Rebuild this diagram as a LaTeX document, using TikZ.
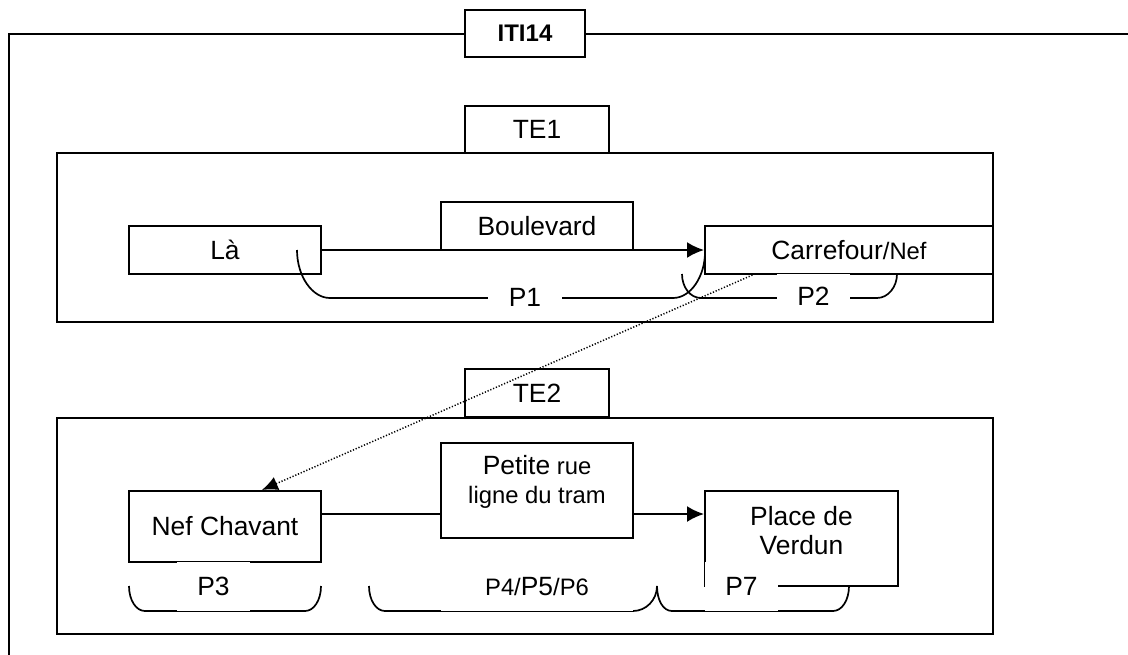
\documentclass[tikz,border=0pt]{standalone}
\usepackage{fontspec}
\setmainfont{Liberation Sans}
\usetikzlibrary{arrows.meta,calc}
\newcommand\normtxt{\fontsize{13.2}{14.5}\selectfont}
\newcommand\smtxt{\fontsize{11.9}{14.5}\selectfont}
\tikzset{
  box/.style={draw, fill=white, line width=1pt, inner sep=0pt, align=center},
  frame/.style={line width=1pt},
  plabel/.style={fill=white, inner sep=0pt, minimum width=36.5pt, minimum height=24.5pt},
  brace/.style={line width=0.85pt},
  flow/.style={line width=1pt, -{Latex[length=8.5pt,width=8pt]}}
}
\begin{document}
\begin{tikzpicture}[x=0.5pt,y=-0.5pt,font=\normtxt]
\useasboundingbox (0,0) rectangle (1128,654);
% outer frame and the two parts
\draw[frame] (9,660) -- (9,33.5) -- (1135,33.5);
\draw[frame] (57,153) rectangle (993,322);
\draw[frame] (57,418) rectangle (993,634);
\node[box,minimum width=60pt,minimum height=23.5pt,font=\bfseries\fontsize{12}{14}\selectfont] (iti) at (525,33.5) {ITI14};
\node[box,minimum width=72pt,minimum height=23.5pt] (te1) at (537,129.5) {TE1};
\node[box,minimum width=72pt,minimum height=24pt] (te2) at (537,393) {TE2};

% TE1
\node[box,minimum width=96pt,minimum height=24pt] (la) at (225,250) {Là};
\node[box,minimum width=96pt,minimum height=24pt] (bd) at (537,226) {Boulevard};
\node[box,minimum width=144pt,minimum height=24pt] (car) at (849,250) {Carrefour{\smtxt/Nef}};
\draw[flow] (la.east) -- (car.west);
\draw[brace] (297,250) .. controls (297,276) and (312,298) .. (330,298) -- (673,298) .. controls (691,298) and (705,276) .. (705,252);
\draw[brace] (682,274) .. controls (682,287) and (690,298) .. (701,298) -- (877,298) .. controls (888,298) and (897,287) .. (897,274);
\node[plabel,minimum width=37pt,minimum height=18pt] (p1) at (525,297) {P1};
\node[plabel,minimum width=36.5pt,minimum height=22pt] (p2) at (813.5,296) {P2};

% TE2
\node[box,minimum width=96pt,minimum height=35.5pt] (nef) at (225,526.5) {Nef Chavant};
\node[box,minimum width=96pt,minimum height=47.5pt] (petite) at (537,490.5) {};
\node[align=center,inner sep=0pt,font=\smtxt] (petitetxt) at ([yshift=4.25pt]petite.center) {{\normtxt Petite} rue\\ligne du tram};
\node[box,minimum width=96.5pt,minimum height=47.5pt] (verdun) at (801.5,538.5) {};
\node[align=center,inner sep=0pt] (verduntxt) at ([yshift=3.75pt]verdun.center) {Place de\\Verdun};
\coordinate (mid) at ([yshift=6.25pt]nef.east);
\draw[frame] (mid) -- (mid -| petite.west);
\draw[flow] (mid -| petite.east) -- (mid -| verdun.west);
\draw[brace] (129,586) .. controls (129,600) and (136,611) .. (145,611) -- (305,611) .. controls (314,611) and (321,600) .. (321,586);
\draw[brace] (369,586) .. controls (369,600) and (376,611) .. (385,611) -- (633,611) .. controls (646,611) and (657,600) .. (657,586);
\draw[brace] (657,586) .. controls (657,600) and (663,611) .. (672,611) -- (833,611) .. controls (842,611) and (849,600) .. (849,586);
\node[plabel] (p3) at (213.5,586.5) {P3};
\node[plabel,minimum width=96pt,font=\smtxt] (p4) at (537,586.5) {P4/{\normtxt P5}/P6};
\node[plabel] (p7) at (741.5,586.5) {P7};

% from TE1 to TE2
\draw[line width=0.75pt,dash pattern=on 0.6pt off 0.9pt,-{Latex[length=8pt,width=7pt]}] ($(car.south west)!0.167!(car.south east)$) -- ($(nef.north west)!0.69!(nef.north east)$);
\end{tikzpicture}
\end{document}
